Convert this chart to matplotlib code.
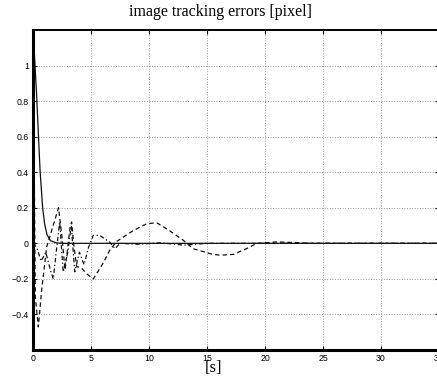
import matplotlib
matplotlib.use('Agg')
from matplotlib import pyplot as plt

# solid error: fast decay from ~1.15
t_solid = [0, 0.05, 0.3, 0.6, 0.83, 1.0, 1.2, 1.5, 2.0, 2.5, 35]
e_solid = [1.1, 1.15, 0.85, 0.42, 0.2, 0.11, 0.05, 0.015, 0.003, 0.0, 0.0]

# dashed error: big dip then slow oscillation
t_dash = [0, 0.08, 0.2, 0.46, 0.75, 1.18, 1.6, 2.2, 2.5, 2.76, 3.2, 3.33, 3.5,
          3.76, 4.2, 4.6, 5.2, 6.06, 6.6, 7.2, 8.6, 9.8, 10.66, 11.8, 12.96,
          13.8, 15.26, 16.1, 17.3, 18.4, 19.3, 21.0, 22.7, 23.9, 35]
e_dash = [0.85, 0.6, -0.3, -0.47, -0.26, -0.02, 0.07, 0.2, 0.035, -0.15, 0.09,
          0.12, 0.0, -0.13, -0.14, -0.17, -0.2, -0.11, -0.04, 0.01, 0.07, 0.11,
          0.116, 0.07, 0.017, -0.03, -0.058, -0.067, -0.062, -0.03, 0.0, 0.008,
          0.004, 0.0, 0.0]

# dash-dot error: smaller oscillations
t_dd = [0, 0.3, 0.7, 1.1, 1.5, 1.75, 2.0, 2.3, 2.6, 3.0, 3.3, 3.6, 4.0, 4.4,
        4.8, 5.2, 5.75, 6.6, 7.07, 7.5, 9.0, 11.0, 13.0, 15.0, 35]
e_dd = [0.0, -0.02, -0.1, -0.05, -0.15, -0.2, -0.05, 0.12, -0.16, -0.05, 0.1,
        -0.16, -0.05, -0.12, -0.02, 0.045, 0.045, 0.007, -0.03, 0.0, -0.005,
        0.003, -0.01, 0.0, 0.0]

xticks = [0, 5, 10, 15, 20, 25, 30, 35]
yticks = [-0.4, -0.2, 0, 0.2, 0.4, 0.6, 0.8, 1]

fig = plt.figure(figsize=(4.37, 3.76), dpi=100)
ax = fig.add_axes([33 / 437, 26 / 376, 406 / 437, 320 / 376])

ax.plot(t_solid, e_solid, color='#111111', ls='-', lw=0.9)
ax.plot(t_dash, e_dash, color='#111111', ls='--', lw=0.9, dashes=(3.5, 2.5))
ax.plot(t_dd, e_dd, color='#111111', ls='-.', lw=0.9, dashes=(3.5, 2, 1, 2))

ax.set_xlim(0, 35)
ax.set_ylim(-0.6, 1.2)
ax.set_xticks(xticks)
ax.set_yticks(yticks)
ax.set_yticklabels(['\u22120.4', '\u22120.2', '0', '0.2', '0.4', '0.6', '0.8', '1'])
ax.tick_params(direction='in', length=3, width=0.8, labelsize=6.3, pad=3,
               top=True, right=True)
for lab in ax.get_xticklabels() + ax.get_yticklabels():
    lab.set_family('Liberation Sans')
ax.grid(color='#9a9a9a', linestyle=':', linewidth=0.7)
ax.spines['left'].set_linewidth(2.2)
ax.spines['bottom'].set_linewidth(2.2)
ax.spines['top'].set_linewidth(1.4)

fig.text(220 / 437, 1 - 12 / 376, 'image tracking errors [pixel]',
         family='Liberation Serif', fontsize=11.5, ha='center', va='center')
fig.text(214 / 437, 1 - 368 / 376, '[s]',
         family='Liberation Serif', fontsize=12, ha='center', va='center')

fig.savefig('out.png', dpi=100)
